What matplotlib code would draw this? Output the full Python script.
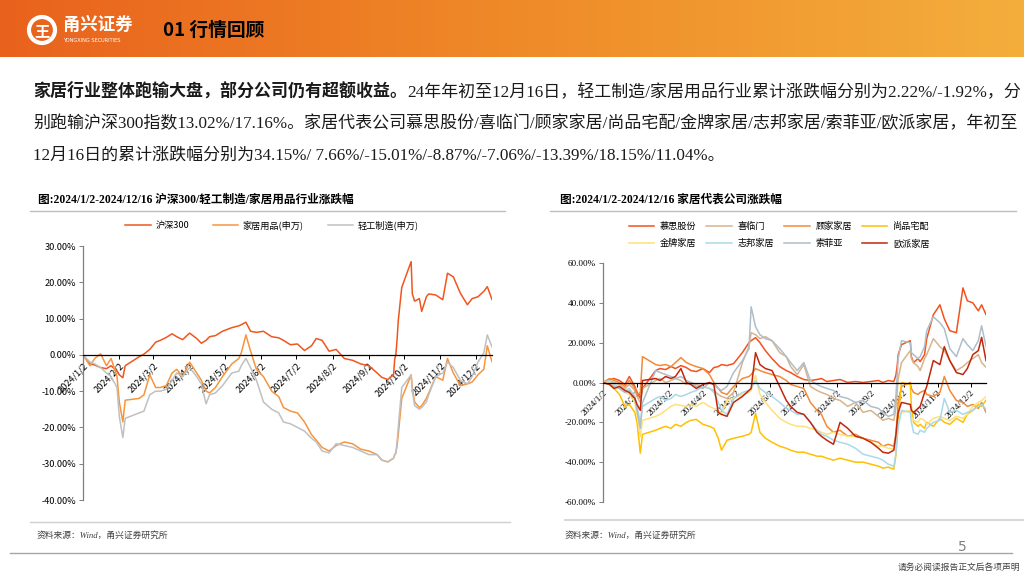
import numpy as np
import matplotlib
matplotlib.use("Agg")
import matplotlib.pyplot as plt
import matplotlib.dates as mdates
from matplotlib.colors import LinearSegmentedColormap
from matplotlib.patches import Circle
from datetime import datetime

plt.rcParams['font.family'] = ['Noto Sans CJK SC', 'DejaVu Sans']
plt.rcParams['axes.unicode_minus'] = False

W, H = 1024, 576
SERIF = ['Liberation Serif', 'Noto Sans CJK SC']
CJK = ['Noto Sans CJK SC', 'DejaVu Sans']

# ---- data (cumulative change, %) ----
dates = ["2024-01-02", "2024-01-08", "2024-01-12", "2024-01-17", "2024-01-22", "2024-01-26",
         "2024-01-31", "2024-02-02", "2024-02-05", "2024-02-07", "2024-02-19", "2024-02-23",
         "2024-02-28", "2024-03-04", "2024-03-08", "2024-03-13", "2024-03-18", "2024-03-22",
         "2024-03-27", "2024-04-02", "2024-04-08", "2024-04-12", "2024-04-16", "2024-04-19",
         "2024-04-24", "2024-04-30", "2024-05-08", "2024-05-14", "2024-05-16", "2024-05-20",
         "2024-05-24", "2024-05-29", "2024-06-04", "2024-06-11", "2024-06-17", "2024-06-21",
         "2024-06-27", "2024-07-03", "2024-07-09", "2024-07-15", "2024-07-19", "2024-07-24",
         "2024-07-30", "2024-08-05", "2024-08-12", "2024-08-19", "2024-08-26", "2024-09-02",
         "2024-09-09", "2024-09-13", "2024-09-18", "2024-09-23", "2024-09-24", "2024-09-25",
         "2024-09-26", "2024-09-27", "2024-09-30", "2024-10-08", "2024-10-09", "2024-10-11",
         "2024-10-15", "2024-10-17", "2024-10-21", "2024-10-23", "2024-10-29", "2024-11-04",
         "2024-11-08", "2024-11-13", "2024-11-19", "2024-11-25", "2024-11-29", "2024-12-04",
         "2024-12-09", "2024-12-12", "2024-12-16"]

hs300 = [0, -2.5, -2.8, -3.5, -3.8, -3.0, -4.5, -5.5, -6.3, -3.0, -0.5, 0.2, 1.5, 3.5, 4.0,
         4.8, 5.8, 5.0, 4.2, 6.0, 4.5, 3.2, 4.0, 5.0, 5.3, 6.5, 7.5, 8.0, 8.3, 9.0,
         6.5, 6.2, 6.5, 5.0, 4.7, 4.0, 2.8, 3.0, 1.2, 2.5, 4.5, 4.0, 1.0, 1.5, -1.0,
         -1.5, -2.5, -3.0, -5.0, -6.2, -6.8, -5.5, -1.2, 0.2, 4.2, 9.4, 18.6, 25.7, 16.8, 14.8,
         15.5, 12.0, 16.0, 16.8, 16.5, 15.2, 22.5, 21.5, 17.0, 13.8, 15.5, 16.0, 17.5, 18.8, 15.24]
home_goods = [0, -3.0, -1.0, 0.3, -3.0, -1.0, -6.0, -13.0, -18.5, -12.5, -12.0, -11.0, -5.5, -9.0, -9.0,
              -8.5, -5.0, -4.0, -6.0, -2.0, -5.0, -7.0, -10.0, -10.5, -9.0, -6.0, -2.5, -1.0, 0.5, 5.5,
              1.0, -4.0, -6.0, -10.0, -11.5, -14.5, -15.5, -16.0, -18.5, -22.0, -23.5, -25.5, -26.5, -25.0, -24.0,
              -24.5, -26.0, -26.5, -27.5, -29.0, -29.5, -28.5, -27.5, -27.0, -25.0, -22.0, -12.0, -5.5, -9.0, -13.0,
              -14.5, -14.0, -12.0, -10.5, -6.0, -7.0, -1.0, -5.0, -8.5, -8.0, -7.5, -5.5, -4.0, 2.5, -1.92]
light_ind = [0, -2.0, -2.5, -3.5, -5.0, -6.0, -9.0, -17.0, -22.8, -17.5, -16.0, -15.5, -11.0, -10.0, -10.0,
             -9.5, -7.0, -5.0, -6.0, -3.5, -6.0, -8.0, -13.5, -11.0, -10.5, -8.5, -5.0, -4.5, -3.0, -1.0,
             -3.5, -7.0, -13.0, -15.0, -16.0, -18.5, -19.0, -20.0, -21.0, -23.0, -24.0, -26.5, -27.0, -24.5, -25.0,
             -25.5, -26.5, -27.5, -27.5, -29.0, -29.5, -28.5, -27.5, -27.0, -24.0, -20.0, -9.0, -5.5, -10.0, -14.0,
             -15.0, -14.5, -13.0, -11.0, -6.0, -5.0, -2.0, -3.5, -7.0, -8.0, -6.0, -2.0, 0.5, 5.5, 2.22]

mousi = [0, 1.5, 2.0, 1.0, -1.0, 3.0, -2.0, -5.0, -8.0, -3.0, 6.0, 7.0, 6.5, 8.0, 7.0,
         8.5, 7.5, 6.0, 5.5, 7.0, 5.0, 7.5, 8.0, 9.0, 8.5, 9.5, 15.0, 20.0, 21.0, 22.5,
         20.0, 16.0, 12.0, 8.0, 6.0, 5.0, 3.0, 1.5, 1.0, 1.5, 2.0, 0.5, 1.0, 1.5, 0.0,
         0.5, 0.0, 0.5, 1.0, 0.0, 1.0, 0.5, 2.0, 4.0, 8.0, 14.0, 19.0, 21.0, 13.0, 10.0,
         12.0, 10.5, 14.0, 22.0, 34.0, 39.0, 32.0, 26.0, 25.0, 47.5, 41.0, 40.0, 36.0, 39.0, 34.15]
xilinmen = [0, 1, 0, -1, -3, -1, -4, -7, -10, -3, 1, 2, 0, 1, 2,
            1, -1, 0, -1, -2, -3, -4, -6, -7, -8, -5, 10, 18, 25, 24,
            22, 23, 21, 15, 13, 8, 4, 9, -2, -4, -5, -6, -8, -9, -12,
            -10, -15, -14, -17, -19, -18, -19, -16, -12, -5, 2, 10, 16, 12, 10,
            8, 6, 12, 14, 22, 18, 16, 11, 6, 8, 10, 12, 14, 10, 7.66]
gujia = [0, 2, 1, 0, -2, 1, -3, -6, -5, 13, 9, 8.5, 9, 8, 10,
         12.5, 10, 9, 8, 7, 4, 0, -3, -5, -6, -2, 2, 3, 4, 7,
         6, 5, 4, 3, 1, -1, -2, -3, -10, -14, -16, -22, -25, -24, -27,
         -26, -28, -29, -30, -32, -31, -32, -29, -25, -18, -10, -2, 0, -3, -5,
         -6, -5, -4, -6, -7, -5, 3, -4, -9, -10, -12, -11, -13, -10, -15.01]
shangpin = [0, -1, -3, -6, -12, -11, -15, -20, -35.5, -26, -24, -23, -22, -23, -21,
            -22, -20, -19, -18.5, -21, -22, -23, -28, -34, -29, -28, -27, -26, -25, -15.5,
            -25, -28, -30, -32, -33, -34, -35, -35, -36, -37, -37, -38, -39, -38, -39,
            -40, -40, -41, -42, -43, -42.5, -43.5, -40, -36, -28, -18, 0, -1, -12, -20,
            -22, -21, -23, -20, -22, -18, -20, -21, -18, -20, -16, -14, -11, -12, -8.87]
jinpai = [0, 0, -2, -3, -5, -6, -10, -16, -27, -19, -17, -16, -14, -12, -11,
          -11.5, -12, -11, -12, -10, -12, -13, -14, -16, -9, -8, -6, -5, -4, 3.5,
          -6, -10, -14, -18, -20, -21, -22, -22, -23, -24, -25, -26, -25, -26, -27,
          -27, -28, -30, -32, -32, -33, -33.5, -31, -28, -24, -20, -15, -14, -17, -19,
          -20, -18, -19, -21, -18, -17, -18, -19, -17, -18, -16, -12, -10, -9, -7.06]
zhibang = [0, 1, -1, -2, -4, -3, -7, -12, -20, -12, -8, -7, -9, -8, -6,
           -7, -6, -5, -4, -2, -3, -5, -10, -14, -16, -8, -5, -4, -3, 1,
           -3, -5, -7, -10, -13, -14, -16, -16, -20, -24, -26, -27, -29, -30, -31,
           -33, -36, -37, -38, -39, -41, -42, -39, -35, -28, -22, -14, -15, -20, -25,
           -26, -24, -25, -23, -20, -19, -8, -15, -14, -16, -15, -14, -12, -11, -13.39]
sofia = [0, -1, -2, -3, -5, -4, -8, -14, -23, -10, 6, 5, 4, 3, 2,
         3, 1, 0, -2, -3, 0, -1, -3, -4, -2, 5, 11, 17, 38, 28,
         24, 22, 21, 17, 13, 10, 6, 10, 1, -1, -2, -3, -4, -7, -8,
         -10, -9, -12, -13, -15, -17, -16, -12, -6, 3, 12, 21, 20, 15, 14,
         12, 13, 18, 26, 33, 30, 27, 17, 13, 22, 19, 16, 21, 28.5, 18.15]
oupai = [0, -1, -3, -2, -4, -5, -8, -11, -14, 1, 2, 1, 3, 2, 3,
         7, 0, -1, -3, -1, 0, -1, -15, -16, -17, -10, -7, -4, -3, 15,
         9, 7, 6, -2, -9, -12, -15, -16, -20, -25, -27, -29, -31, -20, -23,
         -27, -28, -30, -33, -35, -35.5, -34, -30, -26, -20, -15, -10, -11, -14, -15,
         -13, -12, -5, -2, 11, 9, 18, 11, 5, 4, 7, 14, 16, 22.7, 11.04]

left_names = ["沪深300", "家居用品(申万)", "轻工制造(申万)"]
left_colors = ["#F0561E", "#F7953F", "#C0C0C0"]
right_names = ["慕思股份", "喜临门", "顾家家居", "尚品宅配", "金牌家居", "志邦家居", "索菲亚", "欧派家居"]
right_colors = ["#F4511E", "#D8B48C", "#F38A3A", "#FFC000", "#FFE07A", "#A9D9EA", "#AEBECA", "#C0280E"]

x = [datetime.strptime(d, "%Y-%m-%d") for d in dates]
month_ticks = [datetime(2024, m, 2) for m in range(1, 13)]
month_labels = [f"2024/{m}/2" for m in range(1, 13)]


def fx(px):
    return px / W


def fy(py):
    return 1 - py / H


fig = plt.figure(figsize=(W / 100, H / 100), dpi=100)
fig.patch.set_facecolor("white")

# ---- header band ----
hdr = fig.add_axes([0, fy(57), 1, 57 / H])
grad = np.linspace(0, 1, 256).reshape(1, -1)
cmap = LinearSegmentedColormap.from_list("hdr", ["#E9621D", "#EF8A28", "#F4AE3C"])
hdr.imshow(grad, aspect="auto", cmap=cmap, extent=[0, W, 57, 0])
hdr.set_xlim(0, W)
hdr.set_ylim(57, 0)
hdr.axis("off")
hdr.add_patch(Circle((42, 30), 13, fill=False, edgecolor="white", linewidth=3))
hdr.text(42, 31, "王", color="white", fontsize=11, fontweight="bold", ha="center", va="center", family=CJK)
hdr.text(63, 25, "甬兴证券", color="white", fontsize=12.5, fontweight="bold", ha="left", va="center", family=CJK)
hdr.text(63, 41, "YONGXING SECURITIES", color="white", fontsize=3.6, ha="left", va="center", family=["DejaVu Sans"])
hdr.text(163, 30, "01 行情回顾", color="black", fontsize=13.5, fontweight="bold", ha="left", va="center", family=CJK)

# ---- paragraph ----
renderer = fig.canvas.get_renderer()
lines = [
    [("家居行业整体跑输大盘，部分公司仍有超额收益。", True),
     ("24年年初至12月16日，轻工制造/家居用品行业累计涨跌幅分别为2.22%/-1.92%，分", False)],
    [("别跑输沪深300指数13.02%/17.16%。家居代表公司慕思股份/喜临门/顾家家居/尚品宅配/金牌家居/志邦家居/索菲亚/欧派家居，年初至", False)],
    [("12月16日的累计涨跌幅分别为34.15%/ 7.66%/-15.01%/-8.87%/-7.06%/-13.39%/18.15%/11.04%。", False)],
]
line_y = [92, 124, 156]


def draw_line(runs, y, size):
    xpos = 33
    objs = []
    for s, bold in runs:
        t = fig.text(fx(xpos), fy(y), s, fontsize=size, fontweight="bold" if bold else "normal",
                     family=CJK if bold else SERIF, ha="left", va="center", color="#1a1a1a")
        objs.append(t)
        xpos += t.get_window_extent(renderer).width
    return objs, xpos - 33


# fit the first line to the text block width
probe, wid = draw_line(lines[0], line_y[0], 10)
for t in probe:
    t.remove()
size = 10 * 985 / wid
for runs, y in zip(lines, line_y):
    draw_line(runs, y, size)


# ---- chart frames ----
def chart_frame(x0, x1, title, tx):
    fig.text(fx(tx), fy(200), title, fontsize=8.4, fontweight="bold", ha="left", va="center", family=SERIF)
    fig.add_artist(plt.Line2D([fx(x0), fx(x1)], [fy(211), fy(211)], color="#BFBFBF", lw=1.0))


chart_frame(30, 505, "图:2024/1/2-2024/12/16 沪深300/轻工制造/家居用品行业涨跌幅", 38)
chart_frame(550, 1016, "图:2024/1/2-2024/12/16 家居代表公司涨跌幅", 560)


def style_axis(ax, lo, hi, step, ylab_family, ylab_fmt):
    ax.set_xlim(x[0], x[-1])
    ax.set_ylim(lo, hi)
    for s in ["top", "right"]:
        ax.spines[s].set_visible(False)
    ax.spines["bottom"].set_position(("data", 0))
    ax.spines["bottom"].set_color("black")
    ax.spines["bottom"].set_linewidth(0.9)
    ax.spines["left"].set_color("#7F7F7F")
    ax.spines["left"].set_linewidth(0.9)
    ax.set_yticks(np.arange(lo, hi + 1, step))
    ax.set_yticklabels([ylab_fmt(v) for v in np.arange(lo, hi + 1, step)], family=ylab_family, fontsize=6.6)
    ax.set_xticks(month_ticks)
    ax.set_xticklabels(month_labels, family=ylab_family, fontsize=6.6, rotation=45, ha="right", va="top",
                       rotation_mode="anchor")
    ax.tick_params(axis="x", length=3, width=0.7, pad=1.5, color="black")
    ax.tick_params(axis="y", length=3, width=0.7, pad=2, color="#7F7F7F")
    ax.patch.set_alpha(0)


# ---- left chart ----
ax1 = fig.add_axes([fx(83), fy(500), (492 - 83) / W, (500 - 246) / H])
for vals, name, col in zip([hs300, home_goods, light_ind], left_names, left_colors):
    ax1.plot(x, vals, color=col, lw=1.1, label=name)
style_axis(ax1, -40, 30, 10, CJK, lambda v: f"{v:.2f}%")
ax1.legend(ncol=3, loc="center", bbox_to_anchor=(fx(272), fy(225)), bbox_transform=fig.transFigure,
           frameon=False, prop={"family": CJK, "size": 6.6}, handlelength=2.8, columnspacing=2.6,
           handletextpad=0.5)

# ---- right chart ----
ax2 = fig.add_axes([fx(603), fy(502), (986 - 603) / W, (502 - 263) / H])
right_series = [mousi, xilinmen, gujia, shangpin, jinpai, zhibang, sofia, oupai]
handles = []
for vals, name, col in zip(right_series, right_names, right_colors):
    h, = ax2.plot(x, vals, color=col, lw=1.1, label=name)
    handles.append(h)
style_axis(ax2, -60, 60, 20, SERIF, lambda v: f"{v:.2f}%")
order = [0, 4, 1, 5, 2, 6, 3, 7]
ax2.legend([handles[i] for i in order], [right_names[i] for i in order], ncol=4, loc="center",
           bbox_to_anchor=(fx(779), fy(235)), bbox_transform=fig.transFigure, frameon=False,
           prop={"family": CJK, "size": 6.6}, handlelength=2.8, columnspacing=1.1, handletextpad=0.6,
           labelspacing=0.9)

# ---- footer ----
fig.add_artist(plt.Line2D([fx(30), fx(510)], [fy(522), fy(522)], color="#D0D0D0", lw=1.0))
fig.add_artist(plt.Line2D([fx(565), fx(1024)], [fy(520), fy(520)], color="#D9D9D9", lw=1.5))
fig.text(fx(37), fy(535), "资料来源：Wind，甬兴证券研究所", fontsize=6.3, color="#404040", ha="left", va="center",
         family=SERIF, style="italic")
fig.text(fx(565), fy(535), "资料来源：Wind，甬兴证券研究所", fontsize=6.3, color="#404040", ha="left", va="center",
         family=SERIF, style="italic")
fig.add_artist(plt.Line2D([fx(10), fx(1012)], [fy(553), fy(553)], color="#A6A6A6", lw=1.0))
fig.text(fx(962), fy(547), "5", fontsize=10, color="#808080", ha="center", va="center", family=["DejaVu Sans"])
fig.text(fx(1020), fy(567), "请务必阅读报告正文后各项声明", fontsize=6.3, color="#404040", ha="right", va="center",
         family=CJK)

fig.savefig("out.png", dpi=100, facecolor="white")
